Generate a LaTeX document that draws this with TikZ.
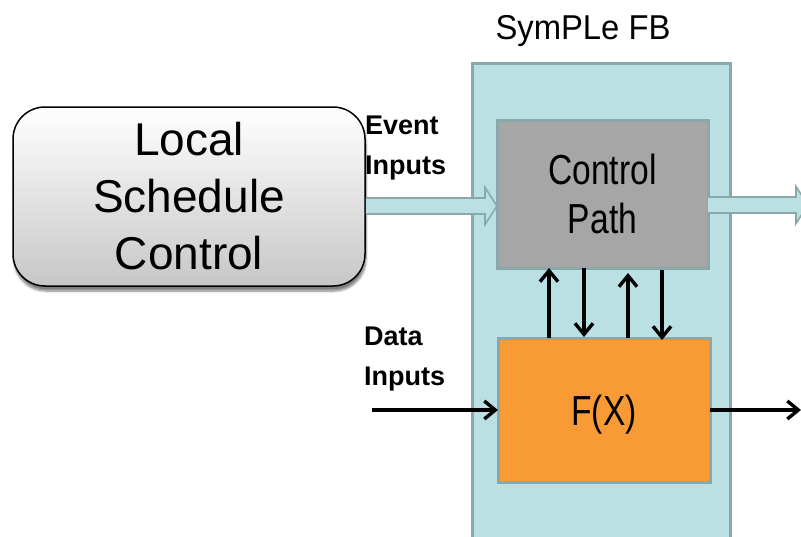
\documentclass[tikz,border=0pt]{standalone}
\usepackage{fontspec}
\setmainfont{Liberation Sans}
\newfontfamily\narrowfont[FakeStretch=0.8]{Liberation Sans}
\newfontfamily\titlefont[FakeStretch=0.95]{Liberation Sans}
\usetikzlibrary{arrows.meta,shadows.blur,calc}

\definecolor{fbfill}{HTML}{BAE0E3}
\definecolor{fbedge}{HTML}{8AA8AA}
\definecolor{ctrlfill}{HTML}{A6A6A6}
\definecolor{fxfill}{HTML}{F99B35}

\begin{document}
\begin{tikzpicture}[x=1pt,y=-1pt,
  block/.style={draw=fbedge, line width=3pt, inner sep=0pt, outer sep=0pt},
  inlabel/.style={font=\fontsize{27}{40}\selectfont\bfseries, align=left, inner sep=0pt, anchor=north west},
  bigtext/.style={font=\narrowfont\fontsize{42}{49}\selectfont, align=center},
  hollowfill/.style={fill=fbfill},
  hollowedge/.style={draw=fbedge, line width=1.6pt, line join=miter},
  sig/.style={line width=3.4pt, -{Straight Barb[length=11pt,width=18pt,line width=3.4pt]}},
]
\useasboundingbox (0,0) rectangle (801,536);
\clip (0,0) rectangle (801,536);

% function block frame and its title
\node[block, fill=fbfill, minimum width=258pt, minimum height=500pt] (fb) at (601,313) {};
\node[font=\titlefont\fontsize{34.5}{40}\selectfont, anchor=base, inner sep=0pt] (title) at (583,39) {SymPLe FB};

% inner blocks
\node[block, fill=ctrlfill, minimum width=211pt, minimum height=148pt, bigtext] (ctrl) at (602.5,194) {Control\\Path};
\node[block, fill=fxfill, minimum width=212pt, minimum height=144pt, bigtext, text depth=0pt] (fx) at (604,410) {F(X)};

% scheduler
\node[draw=black, line width=1.5pt, rounded corners=32pt, top color=white, bottom color=black!22,
      minimum width=352pt, minimum height=179pt, align=center,
      font=\fontsize{46}{57}\selectfont,
      blur shadow={shadow xshift=1pt, shadow yshift=-5pt, shadow blur steps=8, shadow opacity=50}] (lsc) at (189,196.5)
  {Local\\Schedule\\Control};

% input labels
\node[inlabel] (evlab) at (365,116) {Event\\Inputs};
\node[inlabel] (dtlab) at (364,327) {Data\\Inputs};

% event connectors (hollow arrows)
\coordinate (evS) at (lsc.east |- 0,206);
\coordinate (evE) at (ctrl.west |- 0,206);
\coordinate (outS) at (ctrl.east |- 0,205);
\coordinate (outE) at (808,205);
\foreach \s/\e in {evS/evE, outS/outE} {
  \fill[hollowfill] ($(\s)+(0,-8)$) -- ($(\e)+(-12,-8)$) -- ($(\e)+(-12,-18.5)$) -- (\e)
    -- ($(\e)+(-12,18.5)$) -- ($(\e)+(-12,8)$) -- ($(\s)+(0,8)$) -- cycle;
  \draw[hollowedge] ($(\s)+(0,-8)$) -- ($(\e)+(-12,-8)$) -- ($(\e)+(-12,-18.5)$) -- (\e)
    -- ($(\e)+(-12,18.5)$) -- ($(\e)+(-12,8)$) -- ($(\s)+(0,8)$);
}

% data connectors
\coordinate (dataS) at (372,410);
\coordinate (dataE) at (801,410);
\draw[sig] (dataS) -- (fx.west |- dataS);
\draw[sig] (fx.east |- dataE) -- (dataE);

% handshakes between control path and F(X)
\draw[sig] (fx.north -| 549,0) -- (ctrl.south -| 549,0);
\draw[sig] (ctrl.south -| 584,0) -- ($(fx.north -| 584,0)+(0,-1)$);
\draw[sig] (fx.north -| 628,0) -- ($(ctrl.south -| 628,0)+(0,5)$);
\draw[sig] ($(ctrl.south -| 662,0)+(0,2)$) -- ($(fx.north -| 662,0)+(0,2)$);
\end{tikzpicture}
\end{document}
